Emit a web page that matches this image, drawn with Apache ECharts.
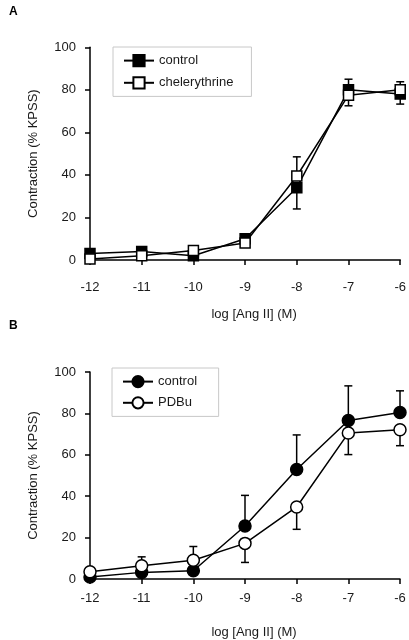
<!DOCTYPE html>
<html><head><meta charset="utf-8">
<script src="https://cdn.jsdelivr.net/npm/echarts@6/dist/echarts.min.js"></script>
<style>html,body{margin:0;padding:0;background:#fff}#c{width:409px;height:640px}</style>
</head><body><div id="c"></div>
<script>
const doses = [-12, -11, -10, -9, -8, -7, -6];
const yTicks = [0, 20, 40, 60, 80, 100];
// Panel A
const aControl = [3, 4, 2, 10, 34, 80, 78];
const aControlUp = [0, 0, 0, 0, 0, 5, 0];
const aControlDown = [0, 0, 0, 0, 10, 0, 4.7];
const aChele = [0.5, 2, 4.5, 8, 39.5, 77.5, 80];
const aCheleUp = [0, 0, 0, 0, 9, 0, 3.8];
const aCheleDown = [0, 0, 0, 0, 0, 5, 0];
// Panel B
const bControl = [1, 3.2, 4, 25.6, 52.9, 76.6, 80.4];
const bControlUp = [0, 7.5, 11.7, 14.8, 16.7, 16.7, 10.5];
const bControlDown = [0, 0, 0, 0, 0, 0, 0];
const bPDBu = [3.5, 6.4, 9.1, 17.2, 34.8, 70.5, 72.1];
const bPDBuUp = [0, 0, 0, 0, 0, 0, 0];
const bPDBuDown = [0, 0, 0, 9.2, 10.8, 10.4, 7.7];

const FONT = 'Liberation Sans, Arial, sans-serif';
const TXT = '#1a1a1a';

function errData(vals, up, down) {
  const out = [];
  vals.forEach((v, i) => {
    if (up[i] > 0) out.push([doses[i], v, v + up[i]]);
    if (down[i] > 0) out.push([doses[i], v, v - down[i]]);
  });
  return out;
}
function errSeries(idx, data) {
  return {
    type: 'custom', xAxisIndex: idx, yAxisIndex: idx, z: 1, silent: true,
    data: data,
    renderItem: function (params, api) {
      const p0 = api.coord([api.value(0), api.value(1)]);
      const p1 = api.coord([api.value(0), api.value(2)]);
      const hw = 4;
      return {
        type: 'group',
        children: [
          { type: 'line', shape: { x1: p0[0], y1: p0[1], x2: p1[0], y2: p1[1] }, style: { stroke: '#000', lineWidth: 1.5 } },
          { type: 'line', shape: { x1: p1[0] - hw, y1: p1[1], x2: p1[0] + hw, y2: p1[1] }, style: { stroke: '#000', lineWidth: 1.5 } }
        ]
      };
    }
  };
}
function lineSeries(idx, name, vals, symbol, filled, size) {
  return {
    type: 'line', name: name, xAxisIndex: idx, yAxisIndex: idx, z: 3,
    data: vals.map((v, i) => [doses[i], v]),
    symbol: symbol, symbolSize: size, showSymbol: true,
    lineStyle: { color: '#000', width: 1.5 },
    itemStyle: { color: filled ? '#000' : '#fff', borderColor: '#000', borderWidth: 1.5, opacity: 1 },
    emphasis: { disabled: true }, animation: false
  };
}
function xAxisOf(idx, margin, gap) {
  return {
    type: 'value', gridIndex: idx, min: -12, max: -6, interval: 1,
    name: 'log [Ang II] (M)', nameLocation: 'middle', nameGap: gap,
    nameTextStyle: { fontFamily: FONT, fontSize: 13, color: TXT, padding: [0, 0, 0, 18] },
    axisLine: { onZero: false, lineStyle: { color: '#000', width: 1.5 } },
    axisTick: { show: true, length: 5, lineStyle: { color: '#000', width: 1.5 } },
    axisLabel: { fontFamily: FONT, fontSize: 13, color: TXT, margin: margin },
    splitLine: { show: false }
  };
}
function yAxisOf(idx) {
  return {
    type: 'value', gridIndex: idx, min: yTicks[0], max: yTicks[yTicks.length - 1], interval: 20,
    name: 'Contraction (% KPSS)', nameLocation: 'middle', nameGap: 50,
    nameTextStyle: { fontFamily: FONT, fontSize: 13, color: TXT },
    axisLine: { show: true, lineStyle: { color: '#000', width: 1.5 } },
    axisTick: { show: true, length: 5, lineStyle: { color: '#000', width: 1.5 } },
    axisLabel: { fontFamily: FONT, fontSize: 13, color: TXT, margin: 14 },
    splitLine: { show: false }
  };
}
const legendBase = {
  orient: 'vertical', itemWidth: 30, itemHeight: 14,
  borderColor: '#c8c8c8', borderWidth: 1, backgroundColor: '#fff',
  textStyle: { fontFamily: FONT, fontSize: 13, color: TXT },
  selectedMode: false
};
const chart = echarts.init(document.getElementById('c'), null, { renderer: 'canvas' });
chart.setOption({
  animation: false,
  backgroundColor: '#fff',
  title: [
    { text: 'A', left: 4, top: 1, textStyle: { fontFamily: FONT, fontSize: 12, fontWeight: 'bold', color: '#000' } },
    { text: 'B', left: 4, top: 315, textStyle: { fontFamily: FONT, fontSize: 12, fontWeight: 'bold', color: '#000' } }
  ],
  grid: [
    { left: 90, top: 47.3, width: 312, height: 212.7 },
    { left: 90, top: 372, width: 310, height: 208 }
  ],
  xAxis: [xAxisOf(0, 21, 48), xAxisOf(1, 13, 47)],
  yAxis: [yAxisOf(0), yAxisOf(1)],
  legend: [
    Object.assign({}, legendBase, { left: 113, top: 47, itemGap: 9, padding: [7, 18, 7, 10], data: ['control', 'chelerythrine'] }),
    Object.assign({}, legendBase, { left: 112, top: 368, itemGap: 8, padding: [7, 18, 7, 10], data: ['control ', 'PDBu'] })
  ],
  series: [
    errSeries(0, errData(aControl, aControlUp, aControlDown)),
    errSeries(0, errData(aChele, aCheleUp, aCheleDown)),
    lineSeries(0, 'control', aControl, 'rect', true, 10),
    lineSeries(0, 'chelerythrine', aChele, 'rect', false, 10),
    errSeries(1, errData(bControl, bControlUp, bControlDown)),
    errSeries(1, errData(bPDBu, bPDBuUp, bPDBuDown)),
    lineSeries(1, 'control ', bControl, 'circle', true, 12),
    lineSeries(1, 'PDBu', bPDBu, 'circle', false, 12)
  ]
});
</script></body></html>
